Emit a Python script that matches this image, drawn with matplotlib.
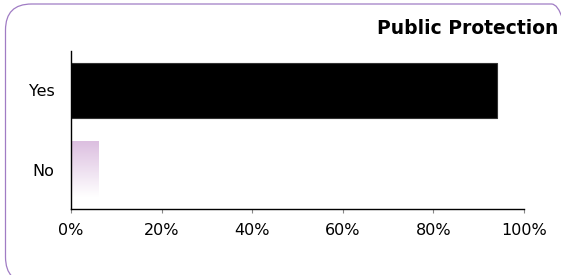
import numpy as np
import matplotlib.pyplot as plt
from matplotlib.patches import FancyBboxPatch
from matplotlib.colors import LinearSegmentedColormap
from matplotlib.transforms import IdentityTransform

categories = ["No", "Yes"]
values = [6, 94]
title = "Public Protection"
xticks = [0, 20, 40, 60, 80, 100]

plt.rcParams['font.family'] = ['DejaVu Sans']

fig = plt.figure(figsize=(5.61, 2.75), dpi=100)

# rounded purple frame (pixel coords), running off the right and bottom edges
frame = FancyBboxPatch((5.5, -8), 572, 279,
                       boxstyle="round,pad=0,rounding_size=26",
                       transform=IdentityTransform(), fill=False,
                       edgecolor="#a07cc4", linewidth=0.9, clip_on=False)
fig.patches.append(frame)

ax = fig.add_axes([71 / 561, 1 - 209 / 275, 453 / 561, 158 / 275])

h = 0.7
y = np.arange(len(categories))
# Yes bar: solid black
ax.barh(y[1], values[1], height=h, color="black", edgecolor="#333333", linewidth=0.8)
# No bar: lilac fading to white
cmap = LinearSegmentedColormap.from_list("fade", ["#ffffff", "#dcbfe0"])
grad = np.linspace(0, 1, 100).reshape(-1, 1)
ax.imshow(grad, cmap=cmap, aspect="auto", origin="lower",
          extent=[0, values[0], y[0] - h / 2, y[0] + h / 2], zorder=2)

ax.set_xlim(0, 100)
ax.set_ylim(-0.5, 1.5)
ax.set_yticks(y)
ax.set_yticklabels(categories, fontsize=11.5)
ax.set_xticks(xticks)
ax.set_xticklabels([f"{t}%" for t in xticks], fontsize=11.5)
ax.tick_params(axis="y", length=0, pad=12)
ax.tick_params(axis="x", length=3, color="#888888", pad=7)
for s in ["top", "right"]:
    ax.spines[s].set_visible(False)
ax.spines["left"].set_linewidth(1.0)
ax.spines["bottom"].set_linewidth(1.0)

fig.text(558 / 561, 1 - 28 / 275, title, ha="right", va="center",
         fontsize=13.5, fontweight="bold")

fig.savefig("out.png", dpi=100)
